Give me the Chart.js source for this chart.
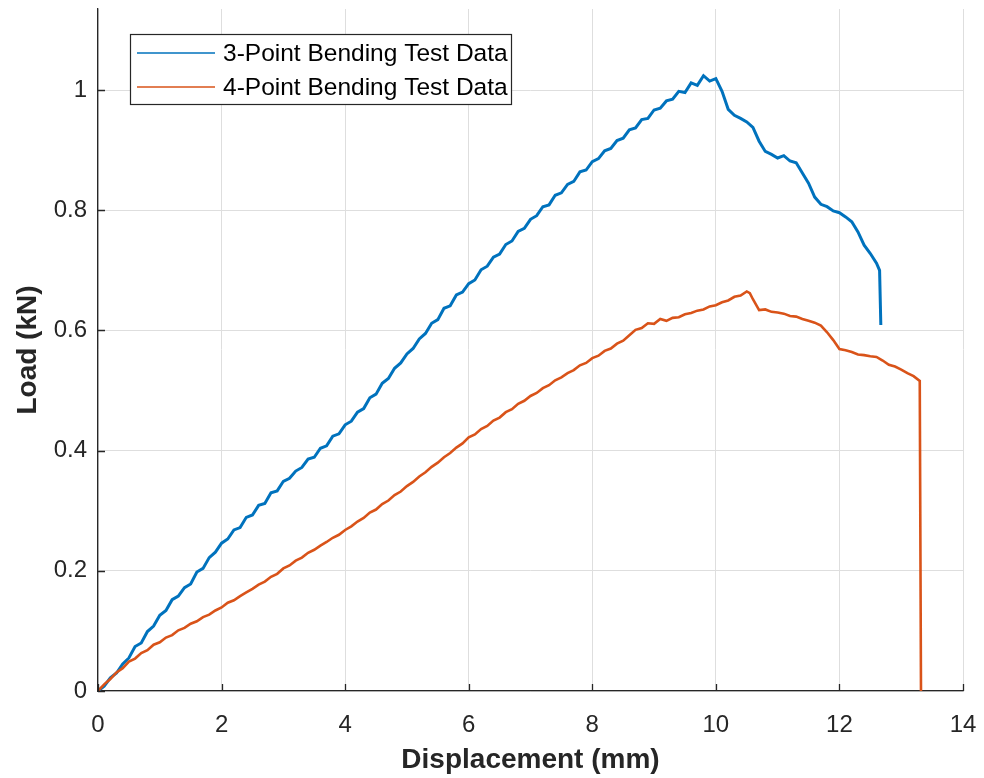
<!DOCTYPE html>
<html>
<head>
<meta charset="utf-8">
<script src="https://cdn.jsdelivr.net/npm/chart.js@4.4.1/dist/chart.umd.min.js"></script>
<style>
  html, body { margin: 0; padding: 0; background: #ffffff; }
  #wrap { width: 984px; height: 778px; }
</style>
</head>
<body>
<div id="wrap"><canvas id="c" width="984" height="778"></canvas></div>
<script>
// ---- data ----
const seriesNames = ['3-Point Bending Test Data', '4-Point Bending Test Data'];
const xTickValues = [0, 2, 4, 6, 8, 10, 12, 14];
const yTickValues = [0, 0.2, 0.4, 0.6, 0.8, 1];

const disp3 = [0,0.1,0.2,0.3,0.4,0.5,0.6,0.7,0.8,0.9,1.0,1.1,1.2,1.3,1.4,1.5,1.6,1.7,1.8,1.9,
  2.0,2.1,2.2,2.3,2.4,2.5,2.6,2.7,2.8,2.9,3.0,3.1,3.2,3.3,3.4,3.5,3.6,3.7,3.8,3.9,
  4.0,4.1,4.2,4.3,4.4,4.5,4.6,4.7,4.8,4.9,5.0,5.1,5.2,5.3,5.4,5.5,5.6,5.7,5.8,5.9,
  6.0,6.1,6.2,6.3,6.4,6.5,6.6,6.7,6.8,6.9,7.0,7.1,7.2,7.3,7.4,7.5,7.6,7.7,7.8,7.9,
  8.0,8.1,8.2,8.3,8.4,8.5,8.6,8.7,8.8,8.9,9.0,9.1,9.2,9.3,9.4,9.5,9.6,9.7,9.8,9.9,
  10.0,10.1,10.2,10.3,10.4,10.5,10.6,10.7,10.8,10.9,11.0,11.1,11.2,11.3,11.4,11.5,11.6,11.7,11.8,11.9,
  12.0,12.1,12.2,12.3,12.4,12.5,12.6,12.65,12.67];
const load3 = [0,0.008,0.022,0.030,0.045,0.055,0.074,0.080,0.099,0.108,0.126,0.134,0.152,0.158,0.172,0.178,0.198,0.204,0.222,0.231,
  0.246,0.253,0.268,0.272,0.289,0.293,0.309,0.312,0.330,0.333,0.349,0.354,0.366,0.372,0.386,0.389,0.404,0.408,0.424,0.428,
  0.443,0.449,0.464,0.470,0.488,0.494,0.512,0.520,0.537,0.546,0.561,0.570,0.586,0.595,0.612,0.618,0.637,0.641,0.659,0.664,
  0.678,0.684,0.701,0.707,0.722,0.727,0.743,0.749,0.765,0.770,0.785,0.791,0.806,0.809,0.825,0.829,0.843,0.848,0.864,0.867,
  0.881,0.886,0.899,0.903,0.916,0.920,0.934,0.937,0.951,0.953,0.967,0.970,0.982,0.985,0.998,0.996,1.012,1.008,1.024,1.015,
  1.019,0.998,0.968,0.958,0.953,0.947,0.938,0.915,0.898,0.893,0.887,0.891,0.882,0.879,0.862,0.845,0.822,0.810,0.806,0.799,
  0.796,0.789,0.781,0.764,0.742,0.728,0.712,0.700,0.609];

const disp4 = [0,0.1,0.2,0.3,0.4,0.5,0.6,0.7,0.8,0.9,1.0,1.1,1.2,1.3,1.4,1.5,1.6,1.7,1.8,1.9,
  2.0,2.1,2.2,2.3,2.4,2.5,2.6,2.7,2.8,2.9,3.0,3.1,3.2,3.3,3.4,3.5,3.6,3.7,3.8,3.9,
  4.0,4.1,4.2,4.3,4.4,4.5,4.6,4.7,4.8,4.9,5.0,5.1,5.2,5.3,5.4,5.5,5.6,5.7,5.8,5.9,
  6.0,6.1,6.2,6.3,6.4,6.5,6.6,6.7,6.8,6.9,7.0,7.1,7.2,7.3,7.4,7.5,7.6,7.7,7.8,7.9,
  8.0,8.1,8.2,8.3,8.4,8.5,8.6,8.7,8.8,8.9,9.0,9.1,9.2,9.3,9.4,9.5,9.6,9.7,9.8,9.9,
  10.0,10.1,10.2,10.3,10.4,10.5,10.55,10.6,10.7,10.8,10.9,11.0,11.1,11.2,11.3,11.4,11.5,11.6,11.7,11.8,11.9,
  12.0,12.1,12.2,12.3,12.4,12.5,12.6,12.7,12.8,12.9,13.0,13.1,13.2,13.3,13.32];
const load4 = [0,0.011,0.020,0.031,0.038,0.049,0.054,0.063,0.068,0.077,0.081,0.089,0.093,0.101,0.105,0.112,0.116,0.123,0.127,0.134,
  0.139,0.147,0.151,0.158,0.164,0.170,0.177,0.182,0.190,0.195,0.204,0.209,0.217,0.222,0.230,0.235,0.242,0.248,0.255,0.260,
  0.268,0.274,0.282,0.288,0.297,0.302,0.311,0.317,0.326,0.332,0.341,0.348,0.357,0.364,0.373,0.380,0.389,0.396,0.405,0.412,
  0.422,0.427,0.436,0.441,0.450,0.455,0.464,0.469,0.478,0.483,0.491,0.496,0.504,0.509,0.517,0.522,0.529,0.534,0.542,0.546,
  0.554,0.558,0.566,0.570,0.578,0.583,0.592,0.601,0.604,0.612,0.611,0.619,0.616,0.621,0.622,0.627,0.629,0.633,0.635,0.640,
  0.642,0.647,0.650,0.656,0.658,0.665,0.662,0.652,0.634,0.635,0.631,0.630,0.628,0.624,0.623,0.619,0.616,0.613,0.608,0.597,0.584,
  0.569,0.567,0.564,0.560,0.559,0.557,0.556,0.550,0.543,0.540,0.535,0.529,0.524,0.516,0.0];

const colors = ['#0072BD', '#D95319'];

function toPoints(xs, ys) { return xs.map((x, i) => ({ x: x, y: ys[i] })); }

const FONT = '"Liberation Sans", Arial, Helvetica, sans-serif';
const AXIS_COLOR = '#262626';

function zeroPad(s) { s.paddingLeft = 0; s.paddingRight = 0; s.paddingTop = 0; s.paddingBottom = 0; }

const insideTicks = {
  id: 'insideTicks',
  afterDatasetsDraw(chart) {
    const ctx = chart.ctx, a = chart.chartArea;
    const xs = chart.scales.x, ys = chart.scales.y;
    ctx.save();
    ctx.strokeStyle = AXIS_COLOR;
    ctx.lineWidth = 1.3;
    ctx.beginPath();
    xTickValues.forEach(v => {
      const px = Math.round(xs.getPixelForValue(v)) + 0.5;
      ctx.moveTo(px, a.bottom); ctx.lineTo(px, a.bottom - 7);
    });
    yTickValues.forEach(v => {
      const py = Math.round(ys.getPixelForValue(v)) + 0.5;
      ctx.moveTo(a.left, py); ctx.lineTo(a.left + 7, py);
    });
    ctx.stroke();
    ctx.restore();
  }
};

const boxLegend = {
  id: 'boxLegend',
  afterDraw(chart) {
    const ctx = chart.ctx;
    ctx.save();
    ctx.font = '24.5px ' + FONT;
    const textX = 223;
    let maxW = 0;
    seriesNames.forEach(n => { maxW = Math.max(maxW, ctx.measureText(n).width); });
    const left = 130.5, top = 34.5, right = Math.round(textX + maxW + 3) + 0.5, bottom = 104.5;
    ctx.fillStyle = '#ffffff';
    ctx.fillRect(left, top, right - left, bottom - top);
    ctx.strokeStyle = AXIS_COLOR;
    ctx.lineWidth = 1.2;
    ctx.strokeRect(left, top, right - left, bottom - top);
    const rows = [53, 87];
    seriesNames.forEach((n, i) => {
      ctx.strokeStyle = colors[i];
      ctx.lineWidth = 1.6;
      ctx.beginPath();
      ctx.moveTo(137, rows[i]); ctx.lineTo(215, rows[i]);
      ctx.stroke();
      ctx.fillStyle = '#000000';
      ctx.textBaseline = 'middle';
      ctx.textAlign = 'left';
      ctx.fillText(n, textX, rows[i] + 1);
    });
    ctx.restore();
  }
};

new Chart(document.getElementById('c'), {
  type: 'line',
  data: {
    datasets: [
      { label: seriesNames[0], data: toPoints(disp3, load3), borderColor: colors[0], backgroundColor: colors[0],
        borderWidth: 3, pointRadius: 0, tension: 0, order: 1 },
      { label: seriesNames[1], data: toPoints(disp4, load4), borderColor: colors[1], backgroundColor: colors[1],
        borderWidth: 2.6, pointRadius: 0, tension: 0, order: 0 }
    ]
  },
  options: {
    responsive: false,
    animation: false,
    devicePixelRatio: 1,
    layout: { padding: { top: 9, right: 21, left: 0, bottom: 0 } },
    plugins: { legend: { display: false }, tooltip: { enabled: false } },
    scales: {
      x: {
        type: 'linear', min: 0, max: 14,
        afterFit(s) { s.height = 87; zeroPad(s); },
        afterBuildTicks(s) { s.ticks = xTickValues.map(v => ({ value: v })); },
        grid: { color: '#dedede', lineWidth: 1, drawTicks: false },
        border: { display: true, color: AXIS_COLOR, width: 1.3 },
        ticks: { padding: 20, color: AXIS_COLOR, font: { family: FONT, size: 24 }, maxRotation: 0,
                 callback: v => String(v) },
        title: { display: true, text: 'Displacement (mm)', color: '#262626',
                 font: { family: FONT, size: 28, weight: 'bold' }, padding: { top: 0, bottom: 1 } }
      },
      y: {
        type: 'linear', min: 0, max: 1.135,
        afterFit(s) { s.width = 98; zeroPad(s); },
        afterBuildTicks(s) { s.ticks = yTickValues.map(v => ({ value: v })); },
        grid: { color: '#dedede', lineWidth: 1, drawTicks: false },
        border: { display: true, color: AXIS_COLOR, width: 1.3 },
        ticks: { padding: 11, color: AXIS_COLOR, font: { family: FONT, size: 24 },
                 callback: v => String(Math.round(v * 10) / 10) },
        title: { display: true, text: 'Load (kN)', color: '#262626',
                 font: { family: FONT, size: 28, weight: 'bold' }, padding: { top: 11, bottom: 0 } }
      }
    }
  },
  plugins: [insideTicks, boxLegend]
});
</script>
</body>
</html>
